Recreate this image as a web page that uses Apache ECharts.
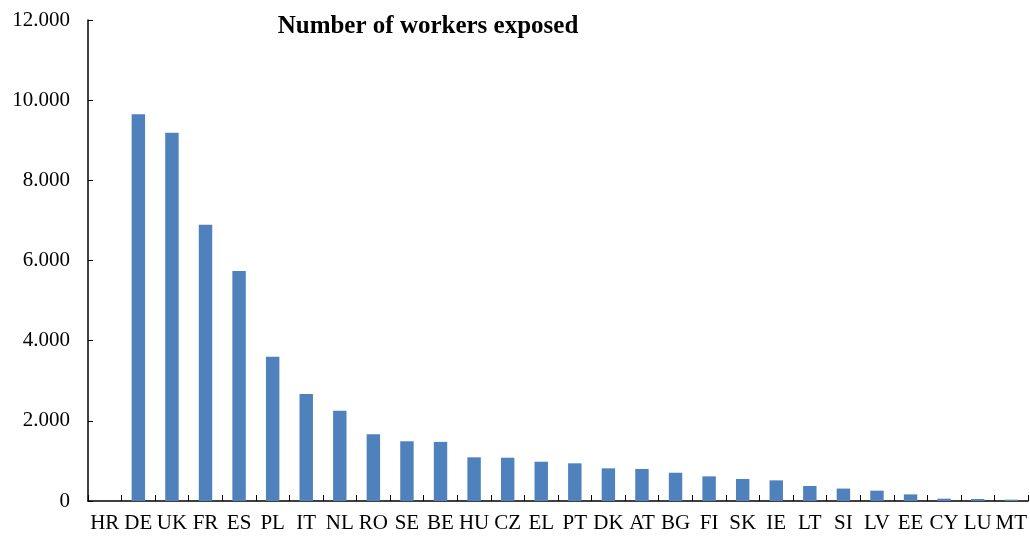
<!DOCTYPE html>
<html>
<head>
<meta charset="utf-8">
<script src="https://cdn.jsdelivr.net/npm/echarts@6/dist/echarts.min.js"></script>
<style>
  html, body { margin: 0; padding: 0; background: #fff; }
  #chart { width: 1030px; height: 537px; }
</style>
</head>
<body>
<div id="chart"></div>
<script>
// countries, sorted as in the source
const countries = ['HR', 'DE', 'UK', 'FR', 'ES', 'PL', 'IT', 'NL', 'RO', 'SE', 'BE', 'HU', 'CZ', 'EL',
  'PT', 'DK', 'AT', 'BG', 'FI', 'SK', 'IE', 'LT', 'SI', 'LV', 'EE', 'CY', 'LU', 'MT']
// number of workers exposed
const workers = [0, 9650, 9190, 6890, 5740, 3600, 2670, 2250, 1665, 1490, 1475, 1090, 1080, 980,
  940, 815, 800, 705, 615, 550, 515, 375, 310, 258, 165, 58, 50, 33]
const yTicks = { min: 0, max: 12000, interval: 2000 }

const chart = echarts.init(document.getElementById('chart'))

// 12000 -> "12.000"
function fmt(v) {
  return String(v).replace(/\B(?=(\d{3})+(?!\d))/g, '.')
}

const serif = '"Liberation Serif", "Times New Roman", serif'

chart.setOption({
  animation: false,
  title: {
    text: 'Number of workers exposed',
    left: 423,
    top: 9,
    textAlign: 'center',
    textStyle: { fontFamily: serif, fontSize: 25, fontWeight: 'bold', color: '#000' }
  },
  grid: { left: 88, right: 1, top: 20, bottom: 36 },
  xAxis: {
    type: 'category',
    data: countries,
    axisLine: { lineStyle: { color: '#000', width: 1.5 } },
    axisTick: { show: true, inside: true, length: 6, lineStyle: { color: '#000' } },
    axisLabel: { fontFamily: serif, fontSize: 21, color: '#000', margin: 12, interval: 0 }
  },
  yAxis: {
    type: 'value',
    min: yTicks.min,
    max: yTicks.max,
    interval: yTicks.interval,
    splitLine: { show: false },
    axisLine: { show: true, lineStyle: { color: '#000', width: 1.5 } },
    axisTick: { show: true, inside: true, length: 5, lineStyle: { color: '#000' } },
    axisLabel: { fontFamily: serif, fontSize: 21, color: '#000', margin: 18, formatter: fmt }
  },
  series: [{
    type: 'bar',
    data: workers,
    barWidth: '40%',
    itemStyle: { color: '#4f81bd' }
  }]
})
</script>
</body>
</html>
